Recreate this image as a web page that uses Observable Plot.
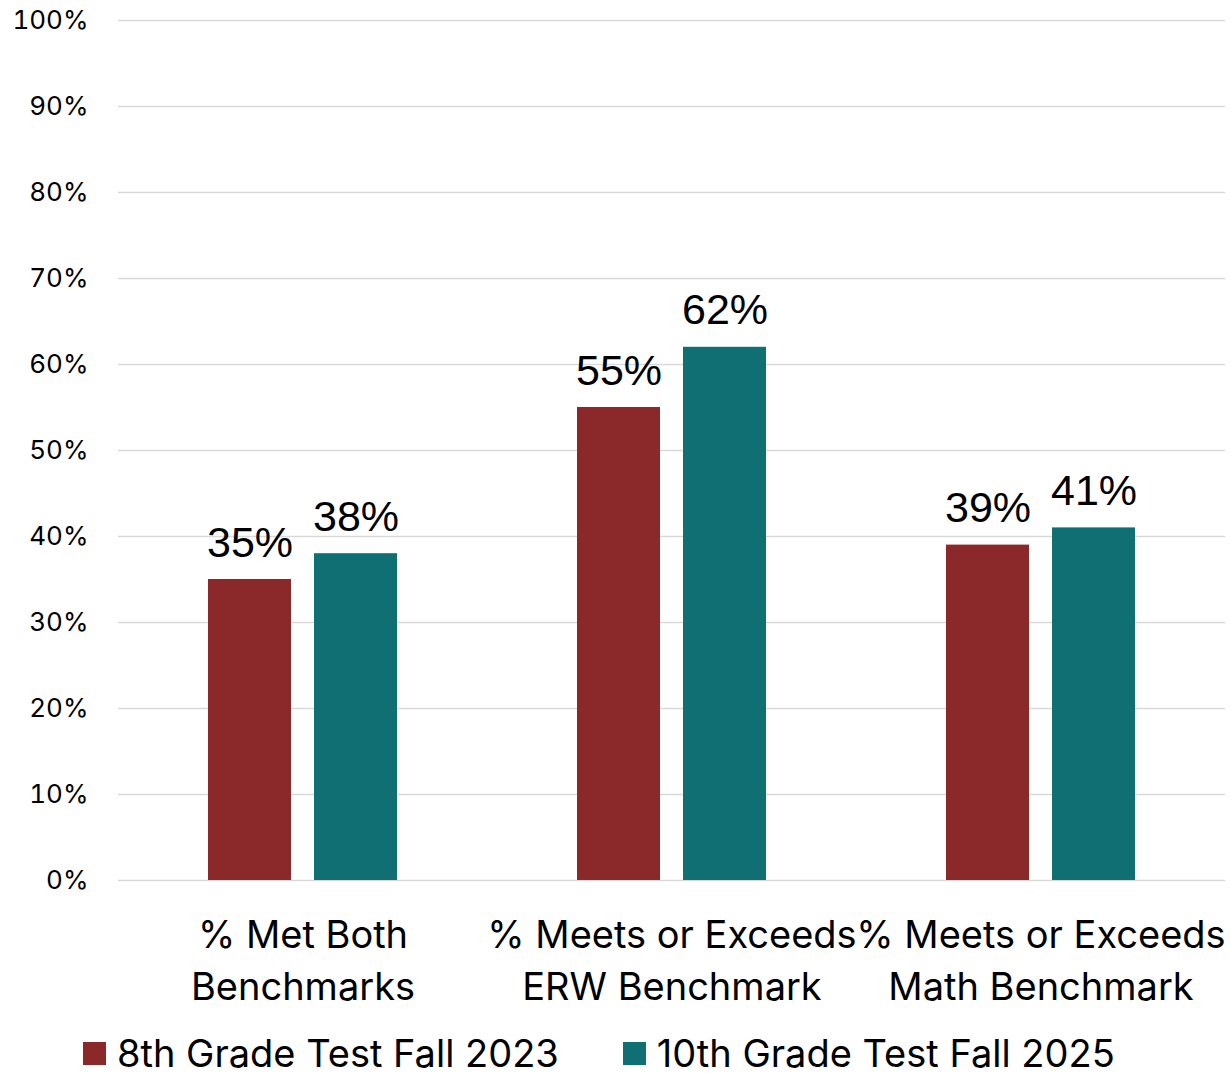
<!DOCTYPE html>
<html>
<head>
<meta charset="utf-8">
<script src="https://cdn.jsdelivr.net/npm/d3@7"></script>
<script src="https://cdn.jsdelivr.net/npm/@observablehq/plot@0.6"></script>
<style>
  body { margin: 0; background: #fff; overflow: hidden; }
  #legend { display: flex; font-family: Inter, "Open Sans", sans-serif; font-size: 38px; line-height: 34px; color: #000; padding-left: 83px; height: 34px; align-items: center; margin-top: 6px; }
  .item { display: flex; align-items: center; margin-right: 64px; }
  .sw { width: 23px; height: 23px; margin-right: 11px; }
  .lt { display: inline-block; height: 34px; line-height: 34px; }
</style>
</head>
<body>
<div id="chart"></div>
<div id="legend"></div>
<script>
const categories = ["% Met Both\nBenchmarks", "% Meets or Exceeds\nERW Benchmark", "% Meets or Exceeds\nMath Benchmark"];
const seriesNames = ["8th Grade Test Fall 2023", "10th Grade Test Fall 2025"];
const series8th = [35, 55, 39];
const series10th = [38, 62, 41];
const colors = ["#8B292A", "#106F73"];
const yTicks = [0, 10, 20, 30, 40, 50, 60, 70, 80, 90, 100];

const data = [];
categories.forEach((c, i) => {
  data.push({category: c, series: seriesNames[0], value: series8th[i]});
  data.push({category: c, series: seriesNames[1], value: series10th[i]});
});

const chart = Plot.plot({
  width: 1230,
  height: 1030,
  marginLeft: 117,
  marginRight: 4,
  marginTop: 20,
  marginBottom: 150,
  style: {fontFamily: "Inter, 'Open Sans', sans-serif", background: "#fff", color: "#000"},
  fx: {domain: categories, padding: 0, label: null},
  x: {domain: seriesNames, paddingInner: 0.22, paddingOuter: 0.85, axis: null},
  y: {domain: [0, 100], label: null},
  color: {domain: seriesNames, range: colors},
  marks: [
    Plot.gridY(yTicks, {stroke: "#d9d9d9", strokeWidth: 1.5, strokeOpacity: 1}),
    Plot.axisY(yTicks, {tickSize: 0, tickPadding: 30, fontSize: 26, tickFormat: d => d + "%", label: null}),
    Plot.axisFx({anchor: "bottom", tickSize: 0, tickPadding: 31, fontSize: 38, lineHeight: 1.36, label: null}),
    Plot.barY(data, {fx: "category", x: "series", y: "value", fill: "series"}),
    Plot.text(data, {fx: "category", x: "series", y: "value", text: d => d.value + "%", lineAnchor: "bottom", dy: -23, fontSize: 43, fontFamily: "'Liberation Sans', Arial, sans-serif", fill: "#000"})
  ]
});
document.getElementById("chart").appendChild(chart);

const legend = document.getElementById("legend");
seriesNames.forEach((s, i) => {
  const item = document.createElement("div");
  item.className = "item";
  const sw = document.createElement("div");
  sw.className = "sw";
  sw.style.background = colors[i];
  const t = document.createElement("span");
  t.className = "lt";
  t.textContent = s;
  item.appendChild(sw);
  item.appendChild(t);
  legend.appendChild(item);
});
</script>
</body>
</html>
